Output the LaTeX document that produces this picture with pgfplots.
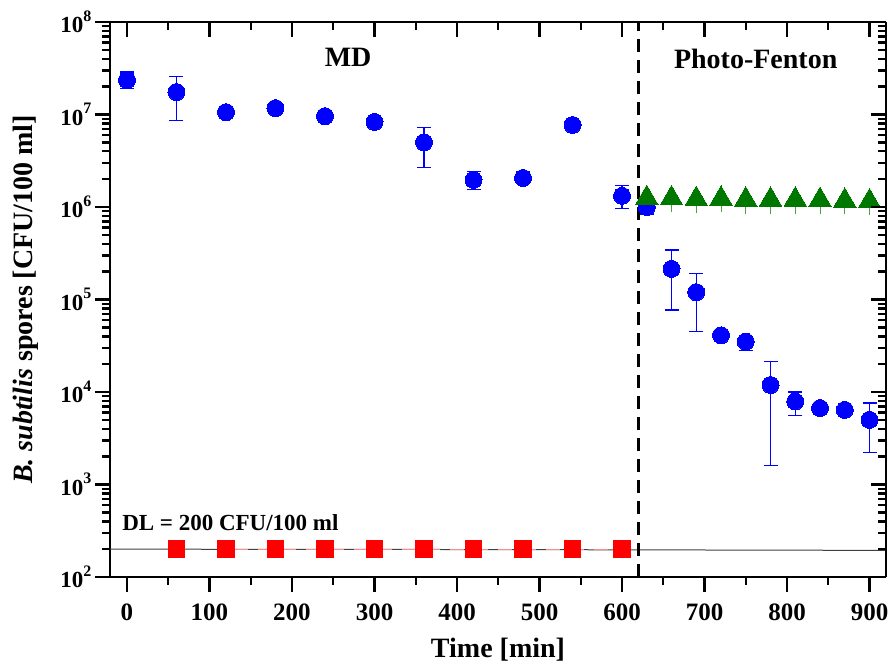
\documentclass[border=0pt]{standalone}
\usepackage{fontspec}
\setmainfont{Liberation Serif}
\usepackage{pgfplots}
\usepackage{pgfplotstable}
\pgfplotsset{compat=1.18}

\definecolor{mdblue}{RGB}{0,0,255}
\definecolor{pfgreen}{RGB}{0,120,0}
\definecolor{ctrlred}{RGB}{255,0,0}

\newcommand\ex[1]{10\raisebox{0.5em}{\fontsize{16}{16}\selectfont #1}}
\def\minorlist{2e2,3e2,4e2,5e2,6e2,7e2,8e2,9e2,2e3,3e3,4e3,5e3,6e3,7e3,8e3,9e3,2e4,3e4,4e4,5e4,6e4,7e4,8e4,9e4,2e5,3e5,4e5,5e5,6e5,7e5,8e5,9e5,2e6,3e6,4e6,5e6,6e6,7e6,8e6,9e6,2e7,3e7,4e7,5e7,6e7,7e7,8e7,9e7}

% time, value, error plus, error minus
\pgfplotstableread{
t    y       ep      em
0    2.36e7  0.52e7  0.47e7
60   1.75e7  0.85e7  0.88e7
120  1.06e7  0.05e7  0.05e7
180  1.17e7  0.08e7  0.15e7
240  9.6e6   0.4e6   0.4e6
300  8.3e6   0.4e6   0.4e6
360  5.0e6   2.3e6   2.3e6
420  1.96e6  0.45e6  0.40e6
480  2.06e6  0.10e6  0.10e6
540  7.7e6   0.3e6   0.3e6
600  1.32e6  0.37e6  0.35e6
630  1.0e6   0.1e6   0.16e6
660  2.14e5  1.29e5  1.37e5
690  1.2e5   0.73e5  0.75e5
720  4.1e4   0.2e4   0.2e4
750  3.5e4   0.3e4   0.7e4
780  1.19e4  0.97e4  1.03e4
810  7.9e3   2.1e3   2.3e3
840  6.7e3   0.2e3   0.2e3
870  6.4e3   0.3e3   0.3e3
900  5.0e3   2.6e3   2.8e3
}\mdtable

\pgfplotstableread{
t    y       em
630  1.25e6  0.36e6
660  1.24e6  0.36e6
690  1.22e6  0.35e6
720  1.23e6  0.35e6
750  1.20e6  0.35e6
780  1.20e6  0.35e6
810  1.20e6  0.35e6
840  1.19e6  0.34e6
870  1.17e6  0.34e6
900  1.15e6  0.33e6
}\pftable

\pgfplotstableread{
t    y
60   200
120  200
180  200
240  200
300  200
360  200
420  200
480  200
540  200
600  200
}\ctrltable

\begin{document}
\begin{tikzpicture}
\begin{axis}[
  width=776pt, height=555pt, scale only axis,
  xmin=-20.6, xmax=920, ymode=log, ymin=1e2, ymax=1e8,
  xtick={0,100,...,900}, minor x tick num=1,
  ytick={1e2,1e3,1e4,1e5,1e6,1e7,1e8},
  minor ytick/.expand once=\minorlist,
  axis x line*=bottom, axis y line*=left,
  axis line style={line width=2.4pt},
  tick style={line width=2.4pt, black},
  major tick length=15pt, minor tick length=8pt,
  tick align=outside,
  /pgf/number format/assume math mode=true,
  xticklabel style={font=\fontsize{25}{25}\selectfont\bfseries, yshift=-8pt},
  yticklabels={\ex{2},\ex{3},\ex{4},\ex{5},\ex{6},\ex{7},\ex{8}},
  yticklabel style={font=\fontsize{23}{23}\selectfont\bfseries},
  xlabel={Time [min]},
  ylabel={\textit{B. subtilis} spores [CFU/100 ml]},
  every axis x label/.style={at={(axis description cs:0.5,0)}, yshift=-73pt, anchor=center,
    font=\fontsize{28}{28}\selectfont\bfseries},
  every axis y label/.style={at={(axis description cs:0,0.5)}, xshift=-84pt, rotate=90, anchor=center,
    font=\fontsize{28}{28}\selectfont\bfseries},
]
% detection limit
\addplot[black!75, line width=1pt] coordinates {(-20.6,200) (450,198) (920,194)};
\addplot[ctrlred!45, line width=1.2pt, dash pattern=on 14pt off 10pt] coordinates {(130,200) (600,200)};
% MD / photo-Fenton boundary
\addplot[black, line width=2.4pt, dash pattern=on 13pt off 8pt] coordinates {(620,1e2) (620,1e8)};

\addplot[only marks, mark=*, mark size=8.5pt, color=mdblue,
  mark options={fill=mdblue, draw=mdblue, line width=0pt},
  error bars/.cd, y dir=both, y explicit,
  error bar style={line width=1.1pt, mdblue},
  error mark options={mdblue, mark size=7pt, line width=1.1pt, rotate=90}]
  table[x=t, y=y, y error plus=ep, y error minus=em] {\mdtable};

\addplot[only marks, mark=triangle*, mark size=13pt, color=pfgreen,
  mark options={fill=pfgreen, draw=pfgreen, line width=0pt},
  error bars/.cd, y dir=minus, y explicit,
  error bar style={line width=1pt, pfgreen!70},
  error mark=none]
  table[x=t, y=y, y error minus=em] {\pftable};

\addplot[only marks, mark=square*, mark size=8.3pt, color=ctrlred,
  mark options={fill=ctrlred, draw=ctrlred, line width=0pt}]
  table[x=t, y=y] {\ctrltable};

\node[font=\fontsize{28}{28}\selectfont\bfseries] at (axis cs:268,4.1e7) {MD};
\node[font=\fontsize{28}{28}\selectfont\bfseries] at (axis cs:762,4.0e7) {Photo-Fenton};
\node[font=\fontsize{23}{23}\selectfont\bfseries, anchor=west] at (axis cs:-10,384) {DL = 200 CFU/100 ml};
\end{axis}
\begin{axis}[
  width=776pt, height=555pt, scale only axis,
  xmin=-20.6, xmax=920, ymode=log, ymin=1e2, ymax=1e8,
  xtick={0,100,...,900}, minor x tick num=1,
  ytick={1e2,1e3,1e4,1e5,1e6,1e7,1e8},
  minor ytick/.expand once=\minorlist,
  axis x line*=top, axis y line*=right,
  axis line style={line width=2.4pt},
  tick style={line width=2.4pt, black},
  major tick length=15pt, minor tick length=8pt,
  tick align=inside,
  xticklabels={}, yticklabels={},
]
\end{axis}
\pgfresetboundingbox
\path[use as bounding box] (current axis.south west) ++(-110pt,-91pt) rectangle ++(888pt,668pt);
\end{tikzpicture}
\end{document}
